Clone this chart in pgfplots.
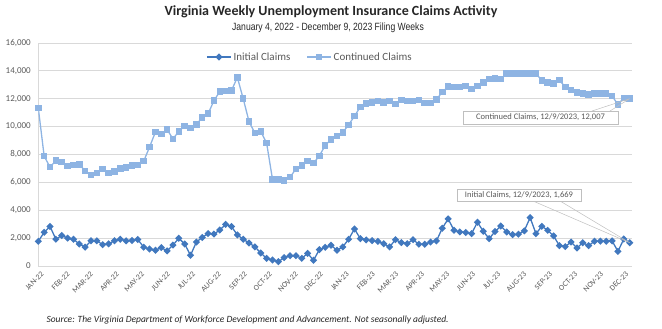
\documentclass[border=0pt]{standalone}
\usepackage{pgfplots}
\pgfplotsset{compat=1.18}
\usepackage{pgfplotstable}
\usepackage{fontspec}
\setmainfont{Carlito}
\newfontfamily\narrowfont{Liberation Sans}[FakeStretch=0.82]
\definecolor{initc}{RGB}{65,120,190}
\definecolor{contc}{RGB}{142,180,227}
\definecolor{gridc}{RGB}{217,217,217}
\definecolor{txtc}{RGB}{89,89,89}
\definecolor{calloutc}{RGB}{191,191,191}

\pgfplotstableread{
wk initial continued
0 1770 11330
1 2420 7890
2 2840 7090
3 1920 7570
4 2190 7460
5 2000 7190
6 1920 7260
7 1580 7290
8 1350 6830
9 1810 6530
10 1810 6680
11 1530 6970
12 1590 6690
13 1810 6770
14 1920 6990
15 1810 7060
16 1830 7220
17 1900 7250
18 1350 7520
19 1220 8530
20 1130 9610
21 1320 9460
22 1080 9790
23 1500 9120
24 1990 9660
25 1580 10050
26 770 9900
27 1720 10170
28 2050 10650
29 2330 10930
30 2290 11860
31 2580 12520
32 2990 12550
33 2830 12600
34 2230 13530
35 1920 12000
36 1650 10350
37 1370 9530
38 930 9650
39 550 8810
40 430 6220
41 310 6200
42 600 6150
43 740 6370
44 740 6970
45 550 7210
46 910 7540
47 410 7380
48 1170 7900
49 1340 8650
50 1490 9080
51 1130 9340
52 1370 9580
53 1920 10130
54 2660 10750
55 1960 11420
56 1870 11660
57 1820 11740
58 1770 11830
59 1600 11740
60 1370 11850
61 1890 11640
62 1680 11900
63 1600 11830
64 1890 11830
65 1560 11900
66 1560 11690
67 1720 11710
68 1800 11950
69 2710 12480
70 3380 12880
71 2560 12840
72 2440 12840
73 2400 12930
74 2320 12690
75 3140 12910
76 2490 13150
77 1960 13410
78 2470 13460
79 2870 13410
80 2440 13820
81 2250 13820
82 2280 13820
83 2520 13820
84 3470 13820
85 2320 13820
86 2850 13300
87 2560 13160
88 2160 13090
89 1460 13330
90 1390 12850
91 1720 12640
92 1290 12450
93 1670 12390
94 1460 12300
95 1780 12370
96 1780 12380
97 1780 12370
98 1800 12200
99 1050 11580
100 1940 12060
101 1669 12007
}\claims

\begin{document}
\begin{tikzpicture}[x=1pt,y=1pt]
\useasboundingbox (0,0) rectangle (662,329);
\node[font=\bfseries\fontsize{14}{16}\selectfont, text=black!85] at (331,317) {Virginia Weekly Unemployment Insurance Claims Activity};
\node[font=\narrowfont\fontsize{10.5}{12}\selectfont, text=black!85] at (328,301) {January 4, 2022 - December 9, 2023 Filing Weeks};
\begin{axis}[
  at={(38.3pt,63pt)}, anchor=south west,
  scale only axis, width=593.7pt, height=223pt,
  xmin=0, xmax=101.4, ymin=0, ymax=16000,
  ytick={0,2000,...,16000},
  xtick={0,4.4286,8.4286,12.857,17.143,21.571,25.857,30.286,34.714,39,43.429,47.714,52.143,56.571,60.571,65,69.286,73.714,78,82.429,86.857,91.143,95.571,99.857},
  xticklabels={JAN-22,FEB-22,MAR-22,APR-22,MAY-22,JUN-22,JUL-22,AUG-22,SEP-22,OCT-22,NOV-22,DEC-22,JAN-23,FEB-23,MAR-23,APR-23,MAY-23,JUN-23,JUL-23,AUG-23,SEP-23,OCT-23,NOV-23,DEC-23},
  axis x line*=bottom, axis y line*=left,
  axis line style={gridc, line width=0.8pt, -},
  major tick length=0pt,
  ymajorgrids, grid style={gridc, line width=0.8pt},
  /pgf/number format/assume math mode=true,
  /pgf/number format/.cd, 1000 sep={,}, /pgfplots/.cd,
  scaled y ticks=false,
  yticklabel style={font=\fontsize{9}{10}\selectfont, text=txtc, xshift=-4pt},
  xticklabel style={rotate=45, anchor=east, inner sep=0.5pt, font=\fontsize{7.8}{9}\selectfont, text=txtc, yshift=-8pt, xshift=-1.5pt},
  legend style={at={(0.4577,0.937)}, anchor=center, draw=none, fill=none, legend columns=2, font=\fontsize{11}{13}\selectfont, text=txtc, /tikz/every even column/.append style={column sep=14pt}},
  legend cell align=left,
  legend image code/.code={\draw[mark repeat=2,mark phase=2,#1] plot coordinates {(0pt,0pt) (12pt,0pt) (24pt,0pt)};},
]
\addplot[initc, line width=1.3pt, mark=square*, mark size=1.9pt, mark options={rotate=45, solid}] table[x=wk,y=initial]{\claims};
\addlegendentry{Initial Claims}
\addplot[contc, line width=1.3pt, mark=square*, mark size=2.6pt, mark options={solid}] table[x=wk,y=continued]{\claims};
\addlegendentry{Continued Claims}
\coordinate (pC) at (axis cs:101,12007);
\coordinate (pI) at (axis cs:101,1669);
\end{axis}
\draw[calloutc, line width=0.5pt] (592,218) -- (pC) (610,218) -- (pC);
\draw[calloutc, line width=0.5pt] (533,128) -- (pI) (560,128) -- (pI);
\node[draw=calloutc, fill=white, font=\fontsize{8.5}{10}\selectfont, text=txtc, inner xsep=3pt, inner ysep=1.5pt, minimum height=12.5pt, minimum width=155pt] at (540.5,211.5) {Continued Claims, 12/9/2023, 12,007};
\node[draw=calloutc, fill=white, font=\fontsize{8.5}{10}\selectfont, text=txtc, inner xsep=3pt, inner ysep=1.5pt, minimum height=12.5pt, minimum width=124pt] at (519,134) {Initial Claims, 12/9/2023, 1,669};
\node[anchor=base west, font=\itshape\fontsize{9.5}{11}\selectfont, text=black!85] at (43,6) {Source: The Virginia Department of Workforce Development and Advancement. Not seasonally adjusted.};
\end{tikzpicture}
\end{document}
